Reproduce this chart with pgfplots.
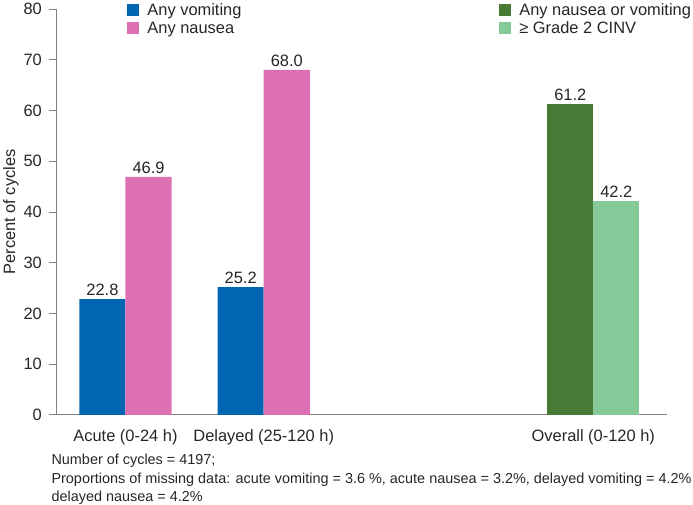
\documentclass[border=0pt]{standalone}
\usepackage{fontspec}
\setmainfont{Liberation Sans}
\usepackage{pgfplots}
\pgfplotsset{compat=1.18}

\definecolor{cvom}{RGB}{0,102,178}
\definecolor{cnau}{RGB}{220,112,178}
\definecolor{cany}{RGB}{72,122,54}
\definecolor{cgr2}{RGB}{134,202,154}
\definecolor{axgray}{RGB}{128,128,128}

\newcommand{\fnt}{\fontsize{16.4}{18}\selectfont}

\pgfplotsset{
  base/.style={
    scale only axis, width=610pt, height=405pt,
    xmin=0.5, xmax=4.92, ymin=0, ymax=80,
    clip=false,
    ybar, bar width=46pt,
    /pgf/number format/assume math mode=true,
    tick label style={font=\fnt, text=black!85},
    label style={font=\fnt, text=black!85},
    nodes near coords={\pgfmathprintnumber[fixed,fixed zerofill,precision=1,assume math mode=true]{\pgfplotspointmeta}},
    nodes near coords style={font=\fnt, text=black!85},
    point meta=explicit,
    legend cell align=left,
    legend style={draw=none, fill=none, font=\fnt, text=black!85, inner sep=0pt,
      row sep=1pt, /tikz/every even column/.append style={column sep=0pt},
      /tikz/every odd column/.append style={column sep=6pt}},
    legend image code/.code={\fill[##1,draw=none] (0pt,-6pt) rectangle (12pt,6pt);},
  }
}

\begin{document}
\begin{tikzpicture}
\begin{axis}[base, name=main,
    axis x line*=bottom, axis y line*=left,
    axis line style={-, draw=axgray, line width=0.8pt},
    ytick={0,10,...,80},
    tick align=outside, major tick length=7pt,
    ytick style={draw=axgray, line width=0.8pt},
    yticklabel style={xshift=-4pt},
    xtick={1,2,4.384}, xtick style={draw=none},
    xticklabels={Acute (0-24 h), Delayed (25-120 h), Overall (0-120 h)},
    xticklabel style={yshift=-4pt},
    ylabel={Percent of cycles}, ylabel style={yshift=-2pt},
    legend style={at={(0.116,1.0)}, anchor=north west, yshift=8pt},
]
\addplot[fill=cvom, draw=none, bar shift=-23pt] coordinates {(1,22.8) [22.8] (2,25.2) [25.2]};
\addplot[fill=cnau, draw=none, bar shift=23pt] coordinates {(1,46.9) [46.9] (2,68.0) [68.0]};
\legend{Any vomiting, Any nausea}
\end{axis}
\begin{axis}[base, hide axis,
    legend style={at={(0.7246,1.0)}, anchor=north west, yshift=8pt},
]
\addplot[fill=cany, draw=none, bar shift=-23pt] coordinates {(4.384,61.2) [61.2]};
\addplot[fill=cgr2, draw=none, bar shift=23pt] coordinates {(4.384,42.2) [42.2]};
\legend{Any nausea or vomiting, ≥ Grade 2 CINV}
\end{axis}
\node[anchor=north west, align=left, inner sep=0pt, text=black!85,
      font=\fontsize{14.4}{18.5}\selectfont]
  at ([xshift=-5pt,yshift=-39pt]main.south west)
  {Number of cycles = 4197;\\
   Proportions of missing data: acute vomiting = 3.6 \%, acute nausea = 3.2\%, delayed vomiting = 4.2\%\\
   delayed nausea = 4.2\%};
\end{tikzpicture}
\end{document}
